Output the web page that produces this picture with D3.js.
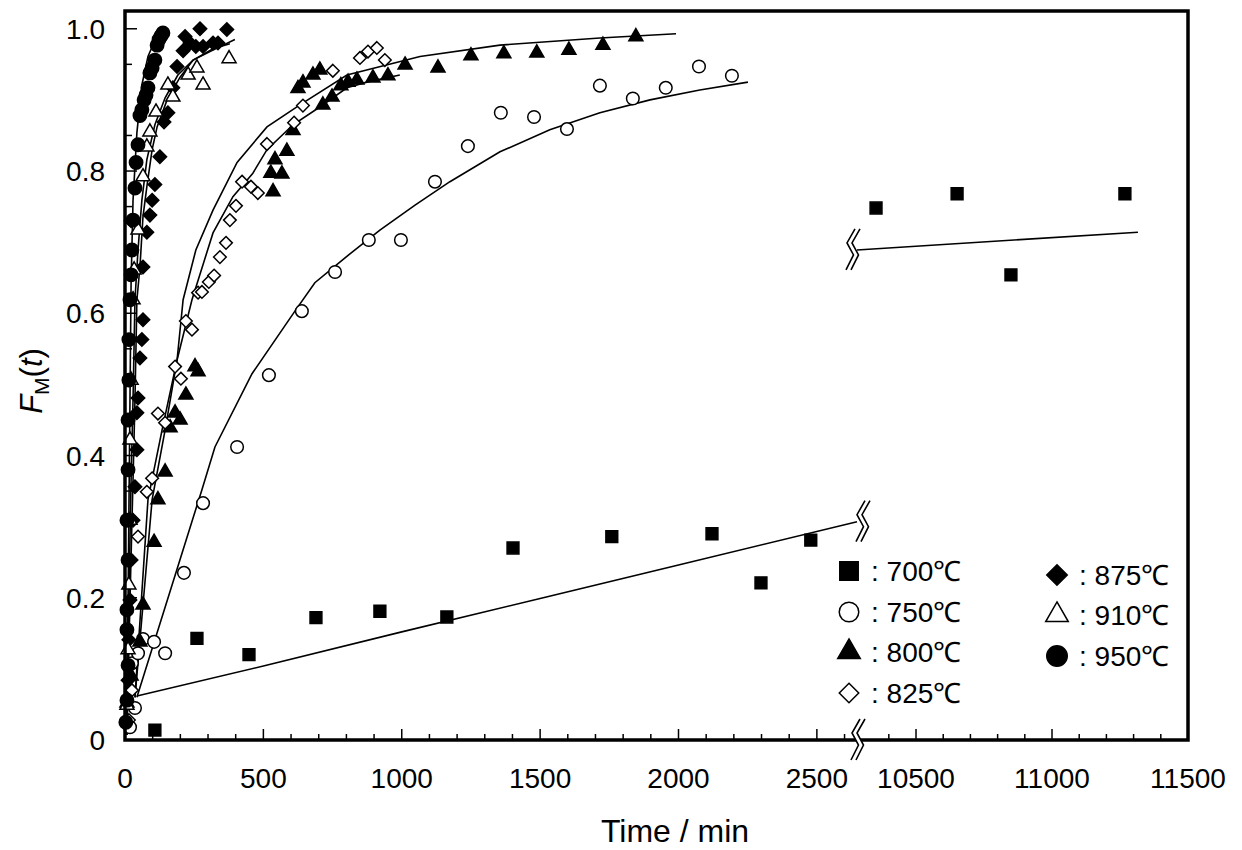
<!DOCTYPE html>
<html>
<head>
<meta charset="utf-8">
<script src="https://cdn.jsdelivr.net/npm/d3@7"></script>
<style>
  body { margin: 0; background: #fff; }
  text { font-family: "Liberation Sans", Arial, sans-serif; fill: #000; }
</style>
</head>
<body>
<svg id="chart" width="1242" height="850"></svg>
<script>

// measured points, [time / min, F_M(t)]
var data700 = [[108,0.014],[260,0.143],[448,0.12],[690,0.172],[921,0.181],[1163,0.173],
  [1402,0.27],[1759,0.286],[2121,0.29],[2298,0.221],[2478,0.281],
  [10353,0.748],[10651,0.768],[10849,0.654],[11268,0.768]];
var data750 = [[18,0.018],[36,0.045],[25,0.108],[47,0.122],[65,0.142],[105,0.138],[145,0.122],
  [213,0.235],[282,0.333],[405,0.412],[520,0.513],[639,0.603],[759,0.658],[881,0.703],
  [997,0.703],[1120,0.785],[1239,0.835],[1358,0.882],[1478,0.876],[1597,0.859],[1716,0.92],
  [1835,0.902],[1954,0.917],[2074,0.947],[2193,0.934]];
var data800 = [[7,0.052],[22,0.09],[54,0.138],[65,0.19],[105,0.278],[119,0.338],[145,0.377],
  [163,0.439],[181,0.46],[199,0.45],[220,0.485],[253,0.525],[264,0.518],[535,0.771],
  [527,0.797],[567,0.796],[542,0.816],[585,0.828],[607,0.857],[625,0.916],[643,0.924],
  [679,0.935],[704,0.942],[715,0.893],[748,0.904],[780,0.92],[806,0.925],[838,0.928],
  [896,0.931],[950,0.934],[1012,0.949],[1131,0.945],[1250,0.962],[1369,0.965],[1488,0.966],
  [1604,0.97],[1727,0.977],[1846,0.989]];
var data825 = [[14,0.028],[25,0.07],[47,0.286],[79,0.349],[98,0.368],[119,0.459],[145,0.446],
  [181,0.525],[202,0.508],[220,0.589],[242,0.577],[264,0.629],[278,0.63],[303,0.644],
  [322,0.653],[343,0.679],[365,0.699],[379,0.731],[401,0.751],[423,0.785],[455,0.778],
  [480,0.769],[513,0.838],[611,0.868],[643,0.892],[751,0.941],[849,0.959],[878,0.968],
  [910,0.973],[939,0.956]];
var data875 = [[11,0.084],[14,0.141],[18,0.197],[22,0.253],[29,0.309],[36,0.356],[43,0.408],
  [43,0.46],[47,0.481],[54,0.537],[61,0.563],[65,0.591],[65,0.665],[22,0.73],[79,0.714],
  [90,0.738],[98,0.759],[108,0.781],[126,0.82],[141,0.869],[155,0.882],[173,0.917],
  [188,0.947],[210,0.969],[217,0.989],[235,0.98],[256,0.975],[282,0.975],[318,0.98],
  [336,0.98],[271,1.0],[368,0.999]];
var data910 = [[7,0.049],[11,0.127],[14,0.218],[18,0.309],[18,0.422],[22,0.506],[29,0.619],
  [33,0.661],[47,0.717],[65,0.792],[79,0.834],[90,0.855],[112,0.883],[173,0.904],
  [155,0.921],[282,0.921],[228,0.935],[260,0.945],[376,0.958]];
var data950 = [[3,0.025],[7,0.056],[11,0.105],[7,0.155],[7,0.183],[11,0.253],[7,0.309],
  [11,0.38],[11,0.45],[14,0.506],[14,0.563],[18,0.619],[22,0.654],[25,0.689],[29,0.731],
  [36,0.776],[40,0.812],[47,0.837],[54,0.878],[61,0.886],[69,0.9],[76,0.907],[83,0.917],
  [90,0.938],[98,0.945],[108,0.956],[116,0.977],[123,0.985],[130,0.99],[137,0.994]];

// fitted curves
var fit700 = [[43,0.062],[500,0.104],[1000,0.152],[1500,0.199],[2000,0.246],[2645,0.307]];
var fit700b = [[10283,0.689],[11316,0.714]];
var fit750 = [[43,0.06],[278,0.352],[325,0.412],[459,0.515],[614,0.603],[686,0.643],
  [795,0.678],[921,0.717],[1048,0.752],[1174,0.785],[1355,0.827],[1535,0.858],
  [1716,0.882],[1897,0.9],[2077,0.914],[2251,0.925]];
var fit800 = [[36,0.06],[98,0.338],[145,0.436],[188,0.534],[210,0.619],[256,0.689],
  [318,0.745],[405,0.812],[513,0.862],[632,0.893],[802,0.935],[1066,0.961],[1355,0.977],
  [1716,0.987],[1991,0.993]];
var fit825 = [[36,0.06],[83,0.338],[134,0.436],[188,0.534],[242,0.619],[318,0.713],
  [390,0.764],[462,0.797],[513,0.83],[607,0.865],[704,0.89],[802,0.917],[874,0.925],[993,0.935]];
var fit875 = [[7,0.007],[18,0.197],[29,0.366],[36,0.478],[43,0.619],[54,0.665],[65,0.736],
  [79,0.778],[98,0.83],[116,0.862],[152,0.9],[199,0.932],[246,0.956],[318,0.97],[397,0.985]];
var fit910 = [[7,0.007],[14,0.197],[22,0.366],[29,0.478],[36,0.619],[47,0.689],[61,0.759],
  [79,0.816],[108,0.865],[145,0.903],[191,0.935],[246,0.956],[318,0.972],[379,0.979]];
var fit950 = [[3,0.007],[11,0.197],[18,0.478],[22,0.643],[29,0.759],[43,0.854],[61,0.921],
  [83,0.961],[112,0.987],[145,0.999]];

var xMajorLeft = [0, 500, 1000, 1500, 2000, 2500];
var xMajorRight = [10500, 11000, 11500];
var yTicks = [0, 0.2, 0.4, 0.6, 0.8, 1.0];
var yTickLabels = ['0', '0.2', '0.4', '0.6', '0.8', '1.0'];
var legendLabels = ['700\u2103', '750\u2103', '800\u2103', '825\u2103', '875\u2103', '910\u2103', '950\u2103'];

var svg = d3.select('#chart');

// broken time axis: 0..2645 on the left, 10283..11500 on the right
var x = d3.scaleLinear()
    .domain([0, 2645, 10283, 11500])
    .range([125, 857, 857, 1188]);
var y = d3.scaleLinear()
    .domain([0, 1.025])
    .range([740, 11]);

var plotLeft = x(0), plotRight = x(11500), plotTop = y(1.025), plotBottom = y(0);

var xMinor = d3.range(100, 2700, 100).filter(function(d) { return d % 500 != 0; })
    .concat(d3.range(10400, 11500, 100).filter(function(d) { return d % 500 != 0; }));
var yMinor = d3.range(0.05, 1.01, 0.1);

// ticks (inward)
var ticks = svg.append('g').attr('stroke', 'black');
ticks.selectAll('line.xmaj')
    .data(xMajorLeft.concat(xMajorRight.slice(0, 2)))
    .enter().append('line')
    .attr('x1', function(d) { return x(d); })
    .attr('x2', function(d) { return x(d); })
    .attr('y1', plotBottom).attr('y2', plotBottom - 11)
    .attr('stroke-width', 1.5);
ticks.selectAll('line.xmin')
    .data(xMinor)
    .enter().append('line')
    .attr('x1', function(d) { return x(d); })
    .attr('x2', function(d) { return x(d); })
    .attr('y1', plotBottom).attr('y2', plotBottom - 6)
    .attr('stroke-width', 1.5);
ticks.selectAll('line.ymaj')
    .data(yTicks.slice(1))
    .enter().append('line')
    .attr('x1', plotLeft).attr('x2', plotLeft + 12)
    .attr('y1', function(d) { return y(d); })
    .attr('y2', function(d) { return y(d); })
    .attr('stroke-width', 1.5);
ticks.selectAll('line.ymin')
    .data(yMinor)
    .enter().append('line')
    .attr('x1', plotLeft).attr('x2', plotLeft + 7)
    .attr('y1', function(d) { return y(d); })
    .attr('y2', function(d) { return y(d); })
    .attr('stroke-width', 1.5);

// tick labels
svg.selectAll('text.xlab')
    .data(xMajorLeft.concat(xMajorRight))
    .enter().append('text')
    .attr('x', function(d) { return x(d); })
    .attr('y', 788)
    .attr('text-anchor', 'middle')
    .attr('font-size', 28)
    .text(function(d) { return d; });
svg.selectAll('text.ylab')
    .data(yTicks)
    .enter().append('text')
    .attr('x', 105)
    .attr('y', function(d) { return y(d) + 10; })
    .attr('text-anchor', 'end')
    .attr('font-size', 28)
    .text(function(d, i) { return yTickLabels[i]; });

// axis titles
svg.append('text')
    .attr('x', 675).attr('y', 842)
    .attr('text-anchor', 'middle')
    .attr('font-size', 32)
    .text('Time / min');
var ytitle = svg.append('text')
    .attr('transform', 'translate(42,381) rotate(-90)')
    .attr('text-anchor', 'middle')
    .attr('font-size', 31);
ytitle.append('tspan').attr('font-style', 'italic').text('F');
ytitle.append('tspan').attr('font-size', 21).attr('dy', 7).text('M');
ytitle.append('tspan').attr('dy', -7).text('(');
ytitle.append('tspan').attr('font-style', 'italic').text('t');
ytitle.append('tspan').text(')');

// fitted curves
var line = d3.line()
    .x(function(d) { return x(d[0]); })
    .y(function(d) { return y(d[1]); });
var fits = [fit700, fit700b, fit750, fit800, fit825, fit875, fit910, fit950];
svg.append('g').selectAll('path')
    .data(fits)
    .enter().append('path')
    .attr('d', line)
    .attr('fill', 'none')
    .attr('stroke', 'black')
    .attr('stroke-width', 1.6);

// markers
var diamond = {
  draw: function(ctx, size) {
    var r = Math.sqrt(size) / 2;
    ctx.moveTo(0, -r); ctx.lineTo(r, 0); ctx.lineTo(0, r); ctx.lineTo(-r, 0); ctx.closePath();
  }
};
var series = [
  { pts: data700, type: d3.symbolSquare, size: 140, fill: 'black' },
  { pts: data750, type: d3.symbolCircle, size: 125, fill: 'white' },
  { pts: data800, type: d3.symbolTriangle, size: 85, fill: 'black' },
  { pts: data825, type: diamond, size: 160, fill: 'white' },
  { pts: data875, type: diamond, size: 180, fill: 'black' },
  { pts: data910, type: d3.symbolTriangle, size: 85, fill: 'white' },
  { pts: data950, type: d3.symbolCircle, size: 140, fill: 'black' }
];
series.forEach(function(s) {
  svg.append('g').selectAll('path')
      .data(s.pts)
      .enter().append('path')
      .attr('transform', function(d) { return 'translate(' + x(d[0]) + ',' + y(d[1]) + ')'; })
      .attr('d', d3.symbol().type(s.type).size(s.size))
      .attr('fill', s.fill)
      .attr('stroke', 'black')
      .attr('stroke-width', 1.5);
});

// frame
svg.append('rect')
    .attr('x', plotLeft).attr('y', plotTop)
    .attr('width', plotRight - plotLeft).attr('height', plotBottom - plotTop)
    .attr('fill', 'none')
    .attr('stroke', 'black')
    .attr('stroke-width', 3.5);

// break marks
var zig = [[5.5, -21], [-2.5, -7], [4, 5], [-3.5, 20]];
var breakMark = function(cx, cy) {
  var a = zig.map(function(p) { return [cx + p[0] - 2.5, cy + p[1]]; });
  var b = zig.map(function(p) { return [cx + p[0] + 2.5, cy + p[1]]; });
  var g = svg.append('g');
  g.append('path')
      .attr('d', d3.line()(a.concat(b.slice().reverse())) + 'Z')
      .attr('fill', 'white');
  [a, b].forEach(function(pts) {
    g.append('path')
        .attr('d', d3.line()(pts))
        .attr('fill', 'none')
        .attr('stroke', 'black')
        .attr('stroke-width', 1.6);
  });
};
breakMark(x(2645), plotBottom);
var e = fit700[fit700.length - 1];
breakMark(x(e[0]) + 5, y(e[1]));
breakMark(x(fit700b[0][0]) - 5, y(fit700b[0][1]));

// legend
var legendRows = [[849, 571], [849, 612], [849, 652], [849, 693], [1057, 575], [1057, 615], [1057, 656]];
var legendSize = [340, 300, 220, 380, 420, 220, 330];
var lg = svg.append('g');
series.forEach(function(s, i) {
  var p = legendRows[i];
  lg.append('path')
      .attr('transform', 'translate(' + p[0] + ',' + p[1] + ')')
      .attr('d', d3.symbol().type(s.type).size(legendSize[i]))
      .attr('fill', s.fill)
      .attr('stroke', 'black')
      .attr('stroke-width', 1.5);
  lg.append('text')
      .attr('x', p[0] + 22).attr('y', p[1] + 10)
      .attr('font-size', 28)
      .text(': ' + legendLabels[i]);
});
</script>
</body>
</html>
